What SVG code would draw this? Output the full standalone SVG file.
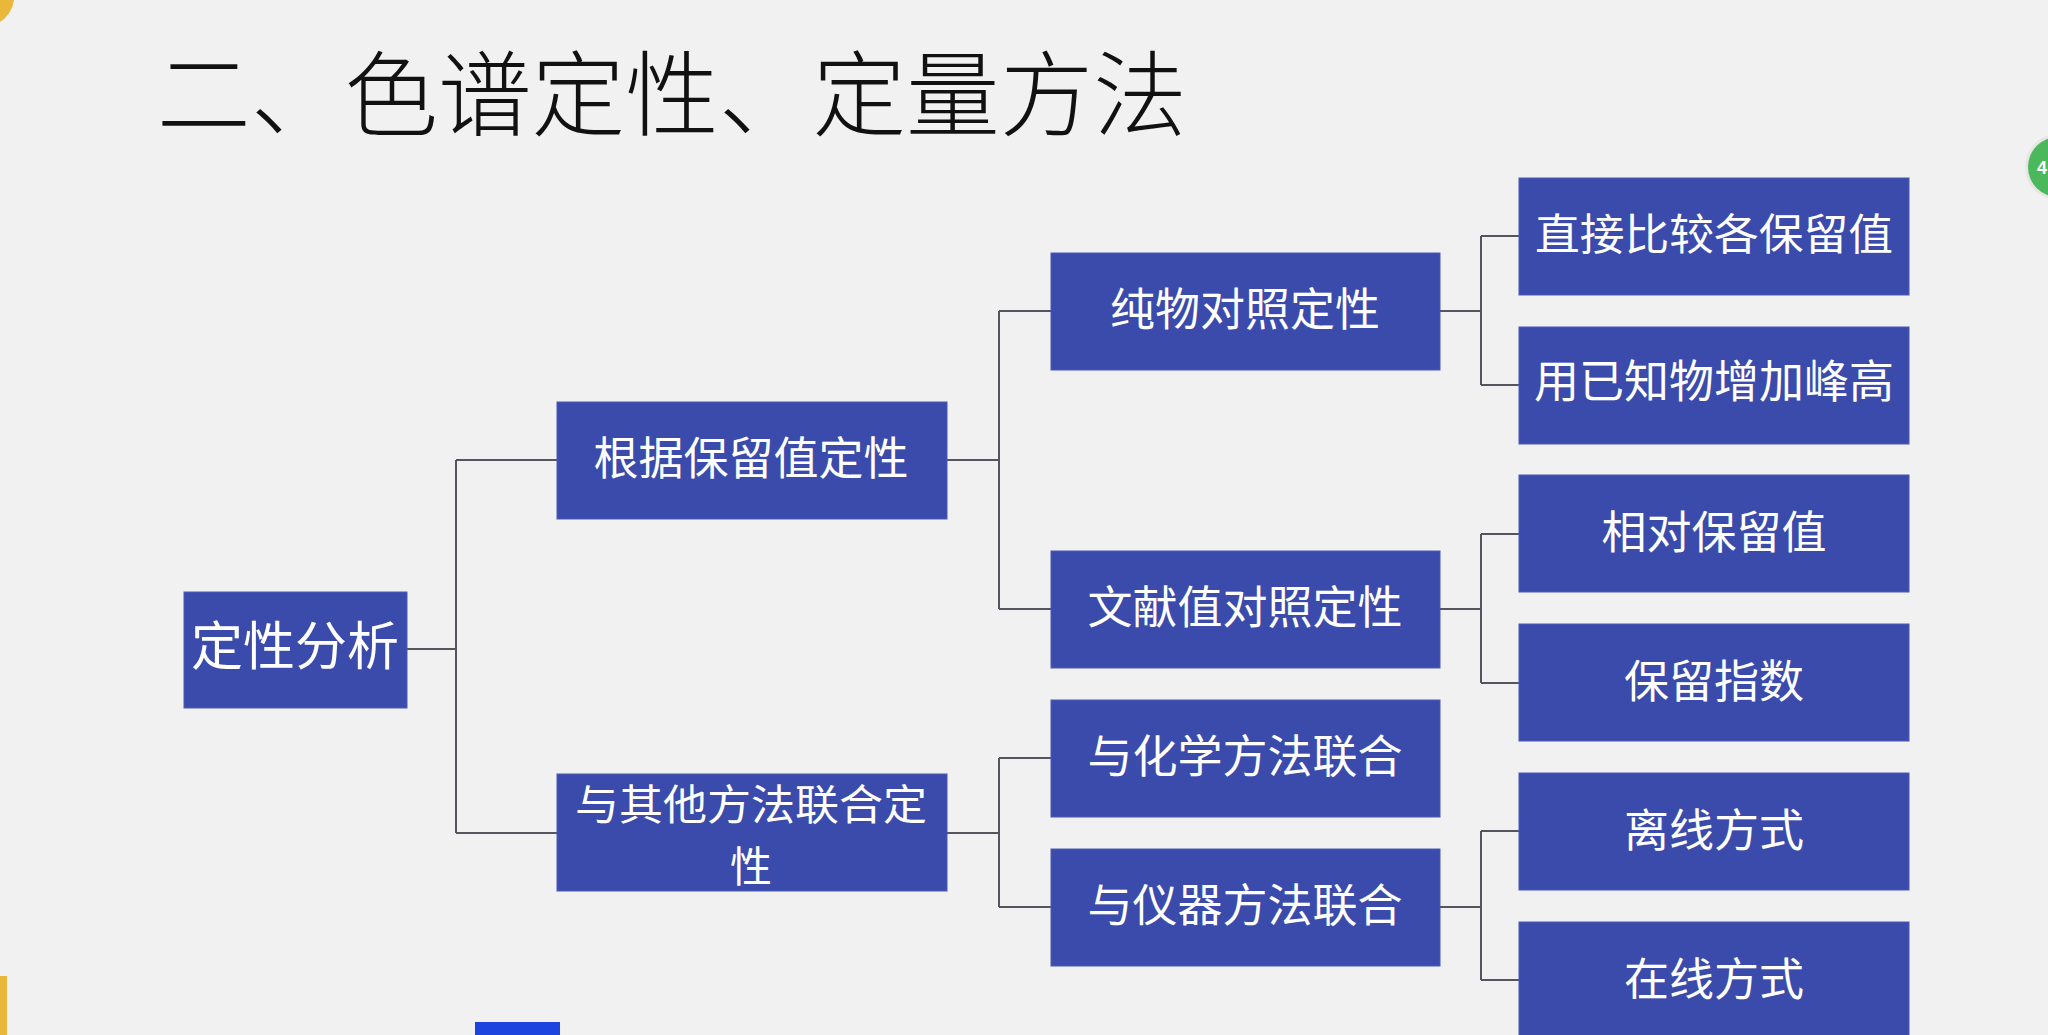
<svg xmlns="http://www.w3.org/2000/svg" width="2048" height="1035" viewBox="0 0 2048 1035">
<style>
.bg{fill:#f1f1f1}
.box{fill:#3b4bab;stroke:#4a5ab8;stroke-width:1}
.t{fill:#ffffff;font-family:"Noto Sans CJK SC","Noto Sans",sans-serif;font-size:45px;text-anchor:middle;dominant-baseline:central}
.title{fill:#111;font-family:"Noto Sans CJK SC","Noto Sans",sans-serif;font-size:93px;font-weight:300;dominant-baseline:central}
.conn{fill:none;stroke:#57535f;stroke-width:2}
</style>
<rect class="bg" x="0" y="0" width="2048" height="1035"/>
<text class="title" x="157" y="88" textLength="1030" lengthAdjust="spacingAndGlyphs">二、色谱定性、定量方法</text>
<g id="connectors">
<path class="conn" d="M407 649H456M456 460V833M456 460H557M456 833H557"/>
<path class="conn" d="M947 460H999M999 311V609M999 311H1051M999 609H1051"/>
<path class="conn" d="M947 833H999M999 758V907M999 758H1051M999 907H1051"/>
<path class="conn" d="M1440 311H1481M1481 236V385M1481 236H1519M1481 385H1519"/>
<path class="conn" d="M1440 609H1481M1481 534V683M1481 534H1519M1481 683H1519"/>
<path class="conn" d="M1440 907H1481M1481 831V980M1481 831H1519M1481 980H1519"/>
</g>
<g id="n-dingxingfenxi"><rect class="box" x="184" y="592" width="223" height="116"/><text class="t" x="295" y="642" style="font-size:52px">定性分析</text></g>
<g id="n-genju"><rect class="box" x="557" y="402" width="390" height="117"/><text class="t" x="751" y="455">根据保留值定性</text></g>
<g id="n-qita"><rect class="box" x="557" y="774" width="390" height="117"/><text class="t" x="751" y="801" style="font-size:42px" textLength="352" lengthAdjust="spacingAndGlyphs">与其他方法联合定</text><text class="t" x="751" y="863" style="font-size:42px">性</text></g>
<g id="n-chunwu"><rect class="box" x="1051" y="253" width="389" height="117"/><text class="t" x="1245" y="306">纯物对照定性</text></g>
<g id="n-wenxian"><rect class="box" x="1051" y="551" width="389" height="117"/><text class="t" x="1245" y="604">文献值对照定性</text></g>
<g id="n-huaxue"><rect class="box" x="1051" y="700" width="389" height="117"/><text class="t" x="1245" y="753">与化学方法联合</text></g>
<g id="n-yiqi"><rect class="box" x="1051" y="849" width="389" height="117"/><text class="t" x="1245" y="902">与仪器方法联合</text></g>
<g id="n-zhijie"><rect class="box" x="1519" y="178" width="390" height="117"/><text class="t" x="1714" y="231" style="font-size:43px" textLength="358" lengthAdjust="spacingAndGlyphs">直接比较各保留值</text></g>
<g id="n-yongyizhi"><rect class="box" x="1519" y="327" width="390" height="117"/><text class="t" x="1714" y="378">用已知物增加峰高</text></g>
<g id="n-xiangdui"><rect class="box" x="1519" y="475" width="390" height="117"/><text class="t" x="1714" y="529">相对保留值</text></g>
<g id="n-baoliu"><rect class="box" x="1519" y="624" width="390" height="117"/><text class="t" x="1714" y="678">保留指数</text></g>
<g id="n-lixian"><rect class="box" x="1519" y="773" width="390" height="117"/><text class="t" x="1714" y="827">离线方式</text></g>
<g id="n-zaixian"><rect class="box" x="1519" y="922" width="390" height="130"/><text class="t" x="1714" y="976">在线方式</text></g>
<path d="M0 0H14Q12 14 0 22Z" fill="#e9b83a"/>
<rect x="0" y="976" width="7" height="59" fill="#e9b83a"/>
<rect x="475" y="1022" width="85" height="13" fill="#1e44e0"/>
<circle cx="2058" cy="167" r="33" fill="#e6e6e6"/>
<circle cx="2058" cy="167" r="30" fill="#4cb85c"/>
<text x="2042" y="168" fill="#fff" style="font-family:'Liberation Sans',sans-serif;font-size:18px;font-weight:bold;dominant-baseline:central;text-anchor:middle">4</text>
</svg>
